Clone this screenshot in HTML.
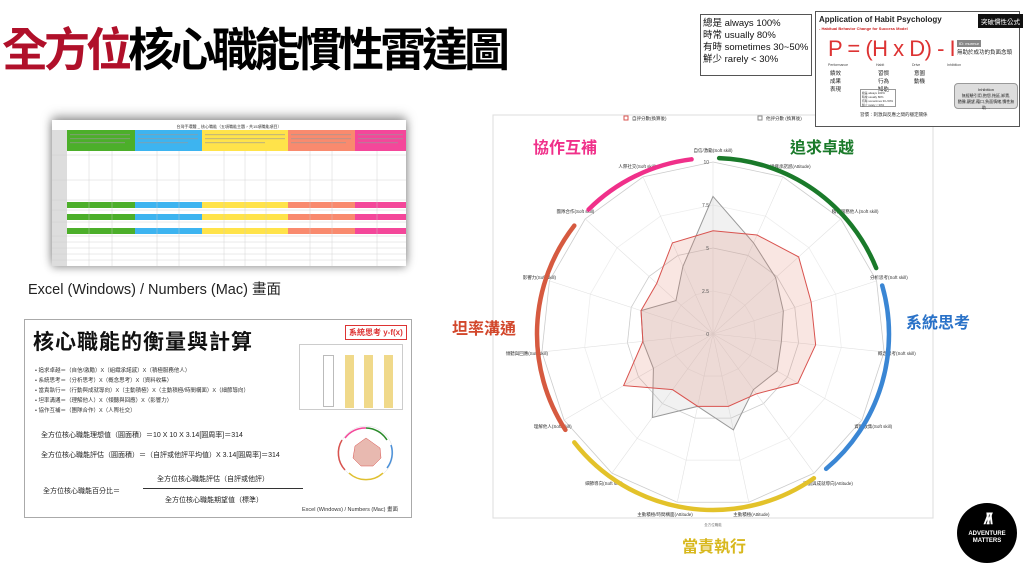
<!DOCTYPE html>
<html><head><meta charset="utf-8"><style>
*{margin:0;padding:0;box-sizing:border-box}
body{width:1024px;height:576px;background:#fff;position:relative;overflow:hidden;font-family:"Liberation Sans","Noto Sans CJK TC",sans-serif}
.a{position:absolute}
.cjk{font-family:"Liberation Sans","Noto Sans CJK TC",sans-serif}
</style></head><body>
<div class="a cjk" style="left:2px;top:22px;font-size:46px;font-weight:bold;letter-spacing:-4px;line-height:56px;white-space:nowrap"><span style="color:#b0102a">全方位</span><span style="color:#000">核心職能慣性雷達圖</span></div>

<!-- spreadsheet -->
<div class="a" style="left:52px;top:120px;width:354px;height:146px;background:#fff;box-shadow:0 -4px 10px rgba(0,0,0,.35),0 2px 8px rgba(0,0,0,.3);overflow:hidden">
<svg width="354" height="146" style="position:absolute;left:0;top:0" id="ss">
<text x="177" y="8" font-size="4" text-anchor="middle" fill="#333">台灣手環體 _ 核心職能（五項職能主題，共15項職能項目）</text>
<rect x="0" y="10" width="15" height="136" fill="#ddd"/>
<rect x="15" y="10" width="68" height="21" fill="#4caf2a"/>
<rect x="83" y="10" width="67" height="21" fill="#3db4f0"/>
<rect x="150" y="10" width="86" height="21" fill="#ffe34a"/>
<rect x="236" y="10" width="67" height="21" fill="#f98a6e"/>
<rect x="303" y="10" width="51" height="21" fill="#f4479a"/>
<g fill="#4caf2a"><rect x="15" y="82" width="68" height="6"/><rect x="15" y="94" width="68" height="6"/><rect x="15" y="108" width="68" height="6"/></g>
<g fill="#3db4f0"><rect x="83" y="82" width="67" height="6"/><rect x="83" y="94" width="67" height="6"/><rect x="83" y="108" width="67" height="6"/></g>
<g fill="#ffe34a"><rect x="150" y="82" width="86" height="6"/><rect x="150" y="94" width="86" height="6"/><rect x="150" y="108" width="86" height="6"/></g>
<g fill="#f98a6e"><rect x="236" y="82" width="67" height="6"/><rect x="236" y="94" width="67" height="6"/><rect x="236" y="108" width="67" height="6"/></g>
<g fill="#f4479a"><rect x="303" y="82" width="51" height="6"/><rect x="303" y="94" width="51" height="6"/><rect x="303" y="108" width="51" height="6"/></g>
<g fill="#999" opacity=".55">
<rect x="18" y="14" width="60" height="1.2"/><rect x="18" y="18" width="60" height="1.2"/><rect x="18" y="22" width="55" height="1.2"/>
<rect x="86" y="14" width="60" height="1.2"/><rect x="86" y="18" width="60" height="1.2"/><rect x="86" y="22" width="50" height="1.2"/>
<rect x="153" y="14" width="80" height="1.2"/><rect x="153" y="18" width="80" height="1.2"/><rect x="153" y="22" width="60" height="1.2"/>
<rect x="239" y="14" width="60" height="1.2"/><rect x="239" y="18" width="60" height="1.2"/><rect x="239" y="22" width="55" height="1.2"/>
<rect x="306" y="14" width="45" height="1.2"/><rect x="306" y="18" width="45" height="1.2"/><rect x="306" y="22" width="40" height="1.2"/>
</g>
<g stroke="#ccc" stroke-width=".4">
<line x1="0" y1="35" x2="354" y2="35"/><line x1="0" y1="60" x2="354" y2="60"/><line x1="0" y1="80" x2="354" y2="80"/><line x1="0" y1="90" x2="354" y2="90"/><line x1="0" y1="102" x2="354" y2="102"/><line x1="0" y1="116" x2="354" y2="116"/><line x1="0" y1="122" x2="354" y2="122"/><line x1="0" y1="128" x2="354" y2="128"/><line x1="0" y1="134" x2="354" y2="134"/><line x1="0" y1="140" x2="354" y2="140"/>
<line x1="37" y1="31" x2="37" y2="146"/><line x1="60" y1="31" x2="60" y2="146"/><line x1="105" y1="31" x2="105" y2="146"/><line x1="127" y1="31" x2="127" y2="146"/><line x1="172" y1="31" x2="172" y2="146"/><line x1="193" y1="31" x2="193" y2="146"/><line x1="214" y1="31" x2="214" y2="146"/><line x1="258" y1="31" x2="258" y2="146"/><line x1="280" y1="31" x2="280" y2="146"/><line x1="325" y1="31" x2="325" y2="146"/>
</g>
</svg></div>
<div class="a" style="left:28px;top:278px;font-size:14.5px;color:#222;white-space:nowrap">Excel (Windows) / Numbers (Mac) 畫面</div>

<!-- bottom-left box -->
<div class="a" style="left:24px;top:319px;width:388px;height:199px;border:1px solid #aaa;background:#fff">
<div class="a" style="left:8px;top:6px;font-size:21px;font-weight:bold;letter-spacing:1px;color:#111">核心職能的衡量與計算</div>
<div class="a" style="left:320px;top:5px;border:1px solid #d33;color:#d33;font-size:8px;padding:1px 3px;font-weight:bold">系統思考 y-f(x)</div>
<div class="a" style="left:274px;top:24px;width:104px;height:66px;border:1px solid #ccc;background:#fff">
 <div class="a" style="left:23px;top:10px;width:11px;height:52px;border:1px solid #bbb"></div>
 <div class="a" style="left:45px;top:10px;width:9px;height:53px;background:#f0d98a"></div>
 <div class="a" style="left:64px;top:10px;width:9px;height:53px;background:#f0d98a"></div>
 <div class="a" style="left:84px;top:10px;width:9px;height:53px;background:#f0d98a"></div>
</div>
<div class="a" style="left:10px;top:46px;font-size:5.5px;line-height:10px;color:#333">• 追求卓越＝（自信/激勵）X（組織承諾感）X（積極服務他人）<br>• 系統思考＝（分析思考）X（概念思考）X（資料收集）<br>• 當責執行＝（行動與成就導向）X（主動積極）X（主動積極/時間構面）X（細節導向）<br>• 坦率溝通＝（理解他人）X（傾聽與回應）X（影響力）<br>• 協作互補＝（團隊合作）X（人際社交）</div>
<div class="a" style="left:16px;top:110px;font-size:7px;color:#222">全方位核心職能理想值（圓面積）＝10 X 10 X 3.14[圓周率]＝314</div>
<div class="a" style="left:16px;top:130px;font-size:7px;color:#222;white-space:nowrap">全方位核心職能評估（圓面積）＝（自評或他評平均值）X 3.14[圓周率]＝314</div>
<div class="a" style="left:18px;top:166px;font-size:7px;color:#222">全方位核心職能百分比＝</div>
<div class="a" style="left:132px;top:154px;font-size:7px;color:#222">全方位核心職能評估（自評或他評）</div>
<div class="a" style="left:118px;top:168px;width:160px;border-top:1px solid #333"></div>
<div class="a" style="left:140px;top:175px;font-size:7px;color:#222">全方位核心職能期望值（標準）</div>
<svg class="a" style="left:300px;top:100px" width="82" height="66"><circle cx="41" cy="33" r="27" fill="none" stroke="#ddd" stroke-width=".5"/><path d="M41,8 A25,25 0 0,1 62,20" stroke="#2a8a2a" fill="none" stroke-width="1.5"/><path d="M20,18 A25,25 0 0,1 41,8" stroke="#f4479a" fill="none" stroke-width="1.5"/><path d="M66,25 A25,25 0 0,1 62,48" stroke="#4a90d9" fill="none" stroke-width="1.5"/><path d="M58,53 A25,25 0 0,1 24,53" stroke="#e0c030" fill="none" stroke-width="1.5"/><path d="M20,50 A25,25 0 0,1 17,20" stroke="#d9534f" fill="none" stroke-width="1.5"/><polygon points="41,18 55,28 56,38 48,46 36,46 28,38 30,26" fill="#e8b9b0" stroke="#d9534f" stroke-width=".5"/></svg>
<div class="a" style="left:277px;top:185px;font-size:5.5px;color:#333;white-space:nowrap">Excel (Windows) / Numbers (Mac) 畫面</div>
</div>

<!-- radar -->
<svg class="a" style="left:0;top:0" width="1024" height="576" id="rad"></svg>

<!-- top right -->
<div class="a" style="left:700px;top:14px;width:112px;height:62px;border:1px solid #555;background:#fff;font-size:9.5px;line-height:12px;padding:3px 2px;color:#111;white-space:nowrap">總是 always 100%<br>時常 usually 80%<br>有時 sometimes 30~50%<br>鮮少 rarely &lt; 30%</div>
<div class="a" style="left:815px;top:11px;width:205px;height:116px;border:1px solid #555;background:#fff">
<div class="a" style="left:3px;top:3px;font-size:8px;font-weight:bold;color:#222;white-space:nowrap">Application of Habit Psychology</div>
<div class="a" style="left:3px;top:14px;font-size:4px;font-weight:bold;color:#c22;white-space:nowrap">- Habitual Behavior Change for Success Model</div>
<div class="a" style="left:162px;top:2px;background:#111;color:#fff;font-size:6.5px;padding:2px 3px;white-space:nowrap">突破慣性公式</div>
<div class="a" style="left:12px;top:24px;font-size:22px;color:#d33;white-space:nowrap;letter-spacing:-0.5px">P = (H x D) - I</div>
<div class="a" style="left:141px;top:28px;background:#888;color:#fff;font-size:4px;padding:1px 2px">ID: murmur</div>
<div class="a" style="left:141px;top:36px;font-size:5.5px;color:#222;white-space:nowrap">無助於成功的負面念頭</div>
<div class="a" style="left:12px;top:51px;font-size:3.5px;color:#444">Performance</div>
<div class="a" style="left:60px;top:51px;font-size:3.5px;color:#444">Habit</div>
<div class="a" style="left:96px;top:51px;font-size:3.5px;color:#444">Drive</div>
<div class="a" style="left:131px;top:51px;font-size:3.5px;color:#444">Inhibition</div>
<div class="a" style="left:14px;top:58px;font-size:5.5px;line-height:8px;color:#222">績效<br>成果<br>表現</div>
<div class="a" style="left:62px;top:58px;font-size:5.5px;line-height:8px;color:#222">習慣<br>行為<br>知能</div>
<div class="a" style="left:98px;top:58px;font-size:5.5px;line-height:8px;color:#222">意圖<br>動機</div>
<div class="a" style="left:138px;top:71px;width:64px;height:26px;background:#ddd;border:1px solid #999;border-radius:4px;font-size:4px;line-height:6px;text-align:center;color:#222;padding-top:3px">Inhibition<br>無經驗引用,抱怨,拖延,卸責,<br>猶豫,觀望,藉口,負面情緒,慣性無助…</div>
<div class="a" style="left:44px;top:77px;width:36px;height:18px;border:1px solid #999;font-size:2.8px;line-height:4px;padding:1px;color:#333">總是 always 100%<br>時常 usually 80%<br>有時 sometimes 30~50%<br>鮮少 rarely &lt; 30%</div>
<div class="a" style="left:44px;top:100px;font-size:4.5px;color:#333;white-space:nowrap">習慣：刺激與反應之間的穩定關係</div>
</div>

<!-- logo -->
<div class="a" style="left:957px;top:503px;width:60px;height:60px;border-radius:50%;background:#000;color:#fff;text-align:center">
<div style="font-size:16px;font-weight:bold;font-style:italic;margin-top:8px;letter-spacing:-3px;line-height:18px">/\/\</div>
<div style="font-size:6px;font-weight:bold;line-height:7px;margin-top:2px">ADVENTURE<br>MATTERS</div>
</div>

<script>
var s=document.getElementById('rad'),cx=713,cy=334,R=172,N=15,h='';
h+='<rect x="493" y="115" width="440" height="403" fill="#fff" stroke="#ddd" stroke-width="1"/>';
function P(i,r){var a=(-90+24*i)*Math.PI/180;return [cx+r*Math.cos(a),cy+r*Math.sin(a)];}
for(var k=1;k<=4;k++){var p=[];for(var i=0;i<N;i++){p.push(P(i,R*k/4).join(','));}h+='<polygon points="'+p.join(' ')+'" fill="none" stroke="'+(k%2?'#eee':'#ccc')+'" stroke-width=".8"/>';}
for(var i=0;i<N;i++){var q=P(i,R);h+='<line x1="'+cx+'" y1="'+cy+'" x2="'+q[0]+'" y2="'+q[1]+'" stroke="#e2e2e2" stroke-width=".6"/>';}
var g=[8,5.8,4.9,4.3,4.0,4.3,4.0,5.7,4.3,6.0,4.0,4.1,4.4,2.9,4.3];
var r=[6,6.3,6.7,6.0,6.0,5.7,4.3,4.3,4.3,4.0,6.0,4.1,4.4,4.4,5.8];
function poly(v,f,st){var p=[];for(var i=0;i<N;i++)p.push(P(i,v[i]*R/10).join(','));return '<polygon points="'+p.join(' ')+'" fill="'+f+'" stroke="'+st+'" stroke-width="1"/>';}
h+=poly(g,'rgba(200,200,200,0.25)','#999');
h+=poly(r,'rgba(225,130,110,0.2)','#d9534f');
[['0',0],['2.5',2.5],['5',5],['7.5',7.5],['10',10]].forEach(function(t){h+='<text x="'+(cx-4)+'" y="'+(cy-t[1]*R/10+2)+'" font-size="5" text-anchor="end" fill="#555">'+t[0]+'</text>';});
var L=['自信/激勵(Soft skill)','組織承諾感(Attitude)','積極服務他人(Soft skill)','分析思考(Soft skill)','概念思考(Soft skill)','資料收集(Soft skill)','行動與成就導向(Attitude)','主動積極(Attitude)','主動積極/時間構面(Attitude)','細節導向(Soft skill)','理解他人(Soft skill)','傾聽與回應(Soft skill)','影響力(Soft skill)','團隊合作(Soft skill)','人際社交(Soft skill)'];
for(var i=0;i<N;i++){var q=P(i,R+12),a=(-90+24*i);var c=Math.cos(a*Math.PI/180);var an=Math.abs(c)<0.2?'middle':(c>0?'start':'end');h+='<text x="'+(q[0]+(c>0.2?-18:c<-0.2?18:0))+'" y="'+(q[1]+2)+'" font-size="4.5" text-anchor="'+an+'" fill="#333">'+L[i]+'</text>';}
function arc(a1,a2,col,w){var R2=176,p1=[cx+R2*Math.cos(a1*Math.PI/180),cy+R2*Math.sin(a1*Math.PI/180)],p2=[cx+R2*Math.cos(a2*Math.PI/180),cy+R2*Math.sin(a2*Math.PI/180)];h+='<path d="M'+p1+' A'+R2+','+R2+' 0 0,1 '+p2+'" fill="none" stroke="'+col+'" stroke-width="'+w+'" stroke-linecap="round"/>';}
arc(-88,-22,'#1a7a2a',4.5);arc(-16,50,'#3a86d4',4.5);arc(55,142,'#e3c22a',4.5);arc(147,218,'#d65a40',4.5);arc(225,-97+360,'#f0308a',4.5);
h+='<rect x="624" y="116" width="4" height="4" fill="none" stroke="#d9534f"/><text x="632" y="120" font-size="4.5" fill="#333">自評分數(換算後)</text>';
h+='<rect x="758" y="116" width="4" height="4" fill="none" stroke="#888"/><text x="766" y="120" font-size="4.5" fill="#333">他評分數 (換算後)</text>';
h+='<text x="713" y="526" font-size="3.5" text-anchor="middle" fill="#777">全方位職能</text>';
var T=[['協作互補',565,153,'#f0308a'],['追求卓越',822,153,'#1a7a2a'],['系統思考',938,328,'#2a72c8'],['坦率溝通',484,334,'#d2472b'],['當責執行',714,552,'#d8b81e']];
T.forEach(function(t){h+='<text x="'+t[1]+'" y="'+t[2]+'" font-size="16" font-weight="bold" text-anchor="middle" fill="'+t[3]+'" font-family="Liberation Sans,Noto Sans CJK TC,sans-serif">'+t[0]+'</text>';});
s.innerHTML=h;
</script>
</body></html>
